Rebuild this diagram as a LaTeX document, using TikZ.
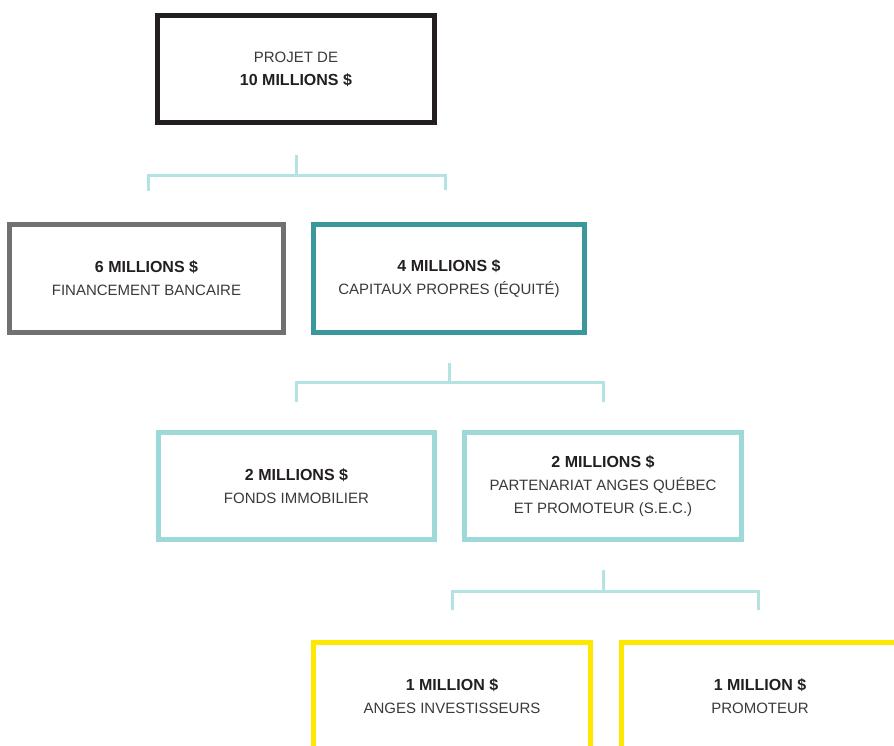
\documentclass[tikz,border=0pt]{standalone}
\usepackage{fontspec}
\setmainfont{Liberation Sans}
\usetikzlibrary{calc}
\definecolor{cblack}{HTML}{231F20}
\definecolor{cgray}{HTML}{717174}
\definecolor{cteal}{HTML}{3A979C}
\definecolor{clight}{HTML}{9ED9D9}
\definecolor{cyellow}{HTML}{FFE800}
\definecolor{connc}{HTML}{B3E3E3}
\definecolor{txtbold}{HTML}{231F20}
\definecolor{txtreg}{HTML}{3A3A3A}
\newcommand\bt[1]{{\fontsize{16}{23}\selectfont\bfseries\color{txtbold}#1}}
\begin{document}
\begin{tikzpicture}[x=1pt,y=-1pt,
  box/.style={draw, line width=5pt, fill=white, inner sep=0pt, align=center,
    font=\fontsize{15}{23}\selectfont, text=txtreg, minimum width=277pt, minimum height=107pt},
  conn/.style={draw=connc, line width=3pt}]
\useasboundingbox (0,0) rectangle (894,745);
\clip (0,0) rectangle (894,745);
\node[box, draw=cblack] (b1) at (296,69) {PROJET DE\\\bt{10 MILLIONS \$}};
\node[box, draw=cgray, minimum width=274pt, minimum height=108pt] (b2) at (146.5,278.5) {\bt{6 MILLIONS \$}\\FINANCEMENT BANCAIRE};
\node[box, draw=cteal, minimum width=271pt, minimum height=108pt] (b3) at (449,278.5) {\bt{4 MILLIONS \$}\\CAPITAUX PROPRES (ÉQUITÉ)};
\node[box, draw=clight, minimum width=276pt] (b4) at (296.5,486) {\bt{2 MILLIONS \$}\\FONDS IMMOBILIER};
\node[box, draw=clight] (b5) at (603,486) {\bt{2 MILLIONS \$}\\PARTENARIAT ANGES QUÉBEC\\ET PROMOTEUR (S.E.C.)};
\node[box, draw=cyellow] (b6) at (452,696) {\bt{1 MILLION \$}\\ANGES INVESTISSEURS};
\node[box, draw=cyellow] (b7) at (760,696) {\bt{1 MILLION \$}\\PROMOTEUR};
% connector 1
\coordinate (c1a) at ([yshift=-30pt]b1.south);
\coordinate (c1b) at ([yshift=-50pt]b1.south);
\coordinate (c1l) at ([xshift=1.5pt,yshift=31pt]b2.north);
\coordinate (c1r) at ([xshift=-4pt,yshift=32pt]b3.north);
\draw[conn] (c1a) -- (c1b);
\draw[conn] (c1l) |- (c1b) -| (c1r);
% connector 2
\coordinate (c2a) at ([yshift=-28pt]b3.south);
\coordinate (c2b) at ([yshift=-47pt]b3.south);
\coordinate (c2l) at ([yshift=28pt]b4.north);
\coordinate (c2r) at ([yshift=28pt]b5.north);
\draw[conn] (c2a) -- (c2b);
\draw[conn] (c2l) |- (c2b) -| (c2r);
% connector 3
\coordinate (c3a) at ([yshift=-28pt]b5.south);
\coordinate (c3b) at ([yshift=-49pt]b5.south);
\coordinate (c3l) at ([yshift=30pt]b6.north);
\coordinate (c3r) at ([xshift=-2pt,yshift=30pt]b7.north);
\draw[conn] (c3a) -- (c3b);
\draw[conn] (c3l) |- (c3b) -| (c3r);
\end{tikzpicture}
\end{document}
